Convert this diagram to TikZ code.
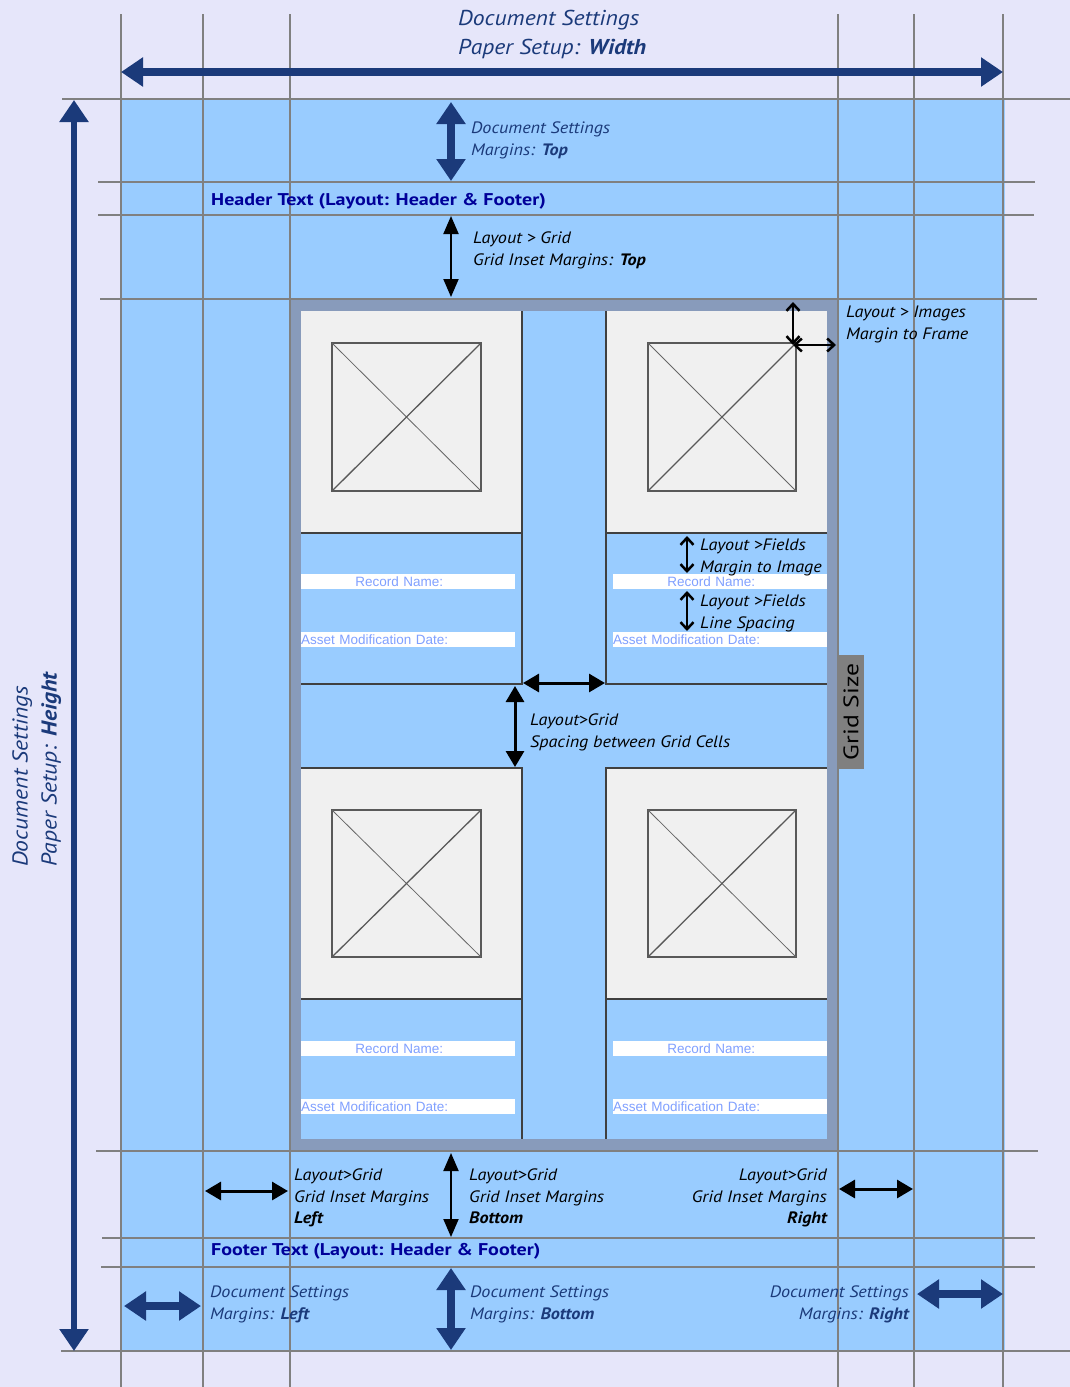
\documentclass[tikz,border=0pt]{standalone}
\usepackage{fontspec}
\setmainfont{PT Sans}[FakeStretch=1.1]
\newfontfamily\hdrfont{PT Sans}[FakeStretch=1.18]
\newfontfamily\gsfont{PT Sans}[FakeStretch=1.22]
\newfontfamily\fieldfont{Liberation Sans}
\usetikzlibrary{arrows.meta}
\definecolor{lavender}{RGB}{230,230,250}
\definecolor{pageblue}{RGB}{153,204,255}
\definecolor{linegray}{RGB}{128,128,128}
\definecolor{framegray}{RGB}{136,155,187}
\definecolor{cellgray}{RGB}{240,240,240}
\definecolor{docnavy}{RGB}{27,58,122}
\definecolor{hdrblue}{RGB}{0,0,153}
\definecolor{fieldblue}{RGB}{128,160,255}

\begin{document}
\begin{tikzpicture}[
  x=1pt,y=-1pt,
  gline/.style={linegray,line width=2.5pt},
  cline/.style={black!75,line width=1.5pt},
  imgbox/.style={draw=black!65,line width=1.3pt},
  imgx/.style={black!60,line width=0.8pt},
  navyarr/.style={docnavy,line width=8pt,{Triangle[width=28pt,length=22pt]}-{Triangle[width=28pt,length=22pt]}},
  blkarr/.style={line width=3pt,{Triangle[width=18pt,length=16pt]}-{Triangle[width=18pt,length=16pt]}},
  thinarr/.style={line width=2pt,{Triangle[width=15pt,length=18pt]}-{Triangle[width=15pt,length=18pt]}},
  barbarr/.style={line width=2.5pt,{Straight Barb[width=13pt,length=7pt]}-{Straight Barb[width=13pt,length=7pt]}},
  lbl/.style={font=\itshape\fontsize{16.5}{21.5}\selectfont,align=left,inner sep=0pt,anchor=north west},
  dlbl/.style={lbl,text=docnavy},
  biglbl/.style={font=\itshape\fontsize{21.5}{29}\selectfont,text=docnavy,align=left,inner sep=0pt,anchor=north west},
  hdr/.style={font=\hdrfont\bfseries\fontsize{17}{20}\selectfont,text=hdrblue,inner sep=0pt,anchor=west},
  fld/.style={fill=white,text=fieldblue,font=\fieldfont\fontsize{13.5}{13.5}\selectfont,inner sep=0pt,
    minimum height=15pt,text width=214pt,anchor=north west}]
  \useasboundingbox (0,0) rectangle (1070,1387);
  \fill[lavender] (0,0) rectangle (1070,1387);
  \fill[pageblue] (122,100) rectangle (1005,1351);
  \fill[framegray] (290,299) rectangle (838,1151);
  \fill[pageblue] (301,311) rectangle (827,1139);

  \fill[cellgray] (301,311) rectangle (522,533);
  \fill[cellgray] (606,311) rectangle (827,533);
  \fill[cellgray] (301,768) rectangle (522,999);
  \fill[cellgray] (606,768) rectangle (827,999);
  \draw[cline] (301,533)--(522,533);
  \draw[cline] (522,311)--(522,684)--(301,684);
  \draw[cline] (606,533)--(827,533);
  \draw[cline] (606,311)--(606,684)--(827,684);
  \draw[cline] (301,999)--(522,999);
  \draw[cline] (301,768)--(522,768)--(522,1139);
  \draw[cline] (606,999)--(827,999);
  \draw[cline] (827,768)--(606,768)--(606,1139);

  \draw[imgbox] (332,343) rectangle (481,491);
  \draw[imgx] (332,343)--(481,491);
  \draw[imgbox] (332,491)--(481,343);
  \draw[imgbox] (648,343) rectangle (796,491);
  \draw[imgx] (648,343)--(796,491);
  \draw[imgbox] (648,491)--(796,343);
  \draw[imgbox] (332,810) rectangle (481,957);
  \draw[imgx] (332,810)--(481,957);
  \draw[imgbox] (332,957)--(481,810);
  \draw[imgbox] (648,810) rectangle (796,957);
  \draw[imgx] (648,810)--(796,957);
  \draw[imgbox] (648,957)--(796,810);

  \node[fld,align=center](rn1) at(301,574){Record Name:\hspace*{18pt}};
  \node[fld,align=left](ad1) at(301,632){Asset Modification Date:};
  \node[fld,align=center](rn2) at(613,574){Record Name:\hspace*{18pt}};
  \node[fld,align=left](ad2) at(613,632){Asset Modification Date:};
  \node[fld,align=center](rn3) at(301,1041){Record Name:\hspace*{18pt}};
  \node[fld,align=left](ad3) at(301,1099){Asset Modification Date:};
  \node[fld,align=center](rn4) at(613,1041){Record Name:\hspace*{18pt}};
  \node[fld,align=left](ad4) at(613,1099){Asset Modification Date:};

  \draw[gline] (121,14)--(121,1387);
  \draw[gline] (203,14)--(203,1387);
  \draw[gline] (290,14)--(290,1387);
  \draw[gline] (838,14)--(838,1387);
  \draw[gline] (914,14)--(914,1387);
  \draw[gline] (1003,14)--(1003,1387);
  \draw[gline] (62,99)--(1070,99);
  \draw[gline] (98,182)--(1035,182);
  \draw[gline] (98,215)--(1034,215);
  \draw[gline] (100,299)--(1037,299);
  \draw[gline] (96,1151)--(1038,1151);
  \draw[gline] (102,1238)--(1035,1238);
  \draw[gline] (101,1267)--(1035,1267);
  \draw[gline] (61,1351)--(1070,1351);

  \node[fill=linegray,rotate=90,minimum width=114pt,minimum height=26pt,inner sep=0pt,
    font=\gsfont\fontsize{21}{21}\selectfont](gs) at(851,712){Grid Size};

  \coordinate(pw1) at(121,72);  \coordinate(pw2) at(1003,72);
  \coordinate(ph1) at(74,100);  \coordinate(ph2) at(74,1351);
  \coordinate(mt1) at(451,102); \coordinate(mt2) at(451,181);
  \coordinate(gt1) at(451,216); \coordinate(gt2) at(451,297);
  \coordinate(mf1) at(793,302); \coordinate(mf2) at(793,345); \coordinate(mf3) at(836,345);
  \coordinate(fm1) at(687,536); \coordinate(fm2) at(687,573);
  \coordinate(ls1) at(687,591); \coordinate(ls2) at(687,631);
  \coordinate(sh1) at(523,683); \coordinate(sh2) at(605,683);
  \coordinate(sv1) at(515,686); \coordinate(sv2) at(515,767);
  \coordinate(gl1) at(205,1191); \coordinate(gl2) at(288,1191);
  \coordinate(gb1) at(451,1153); \coordinate(gb2) at(451,1237);
  \coordinate(gr1) at(839,1189); \coordinate(gr2) at(913,1189);
  \coordinate(ml1) at(124,1306); \coordinate(ml2) at(201,1306);
  \coordinate(mb1) at(451,1268); \coordinate(mb2) at(451,1350);
  \coordinate(mr1) at(917,1294); \coordinate(mr2) at(1003,1294);

  \draw[navyarr] (pw1)--(pw2);
  \draw[navyarr,line width=6pt] (ph1)--(ph2);
  \draw[navyarr] (mt1)--(mt2);
  \draw[thinarr] (gt1)--(gt2);
  \draw[barbarr] (mf1)--(mf2);
  \draw[barbarr] (mf2)--(mf3);
  \draw[barbarr] (fm1)--(fm2);
  \draw[barbarr] (ls1)--(ls2);
  \draw[blkarr] (sh1)--(sh2);
  \draw[blkarr] (sv1)--(sv2);
  \draw[blkarr] (gl1)--(gl2);
  \draw[thinarr] (gb1)--(gb2);
  \draw[blkarr] (gr1)--(gr2);
  \draw[navyarr] (ml1)--(ml2);
  \draw[navyarr] (mb1)--(mb2);
  \draw[navyarr] (mr1)--(mr2);

  \node[biglbl](pwl) at(458,10){Document Settings\\Paper Setup: \textbf{Width}};
  \node[biglbl,rotate=90](phl) at(12,867){Document Settings\\Paper Setup: \textbf{Height}};
  \node[dlbl](mtl) at(471,122){Document Settings\\Margins: \textbf{Top}};
  \node[hdr](hdr) at(211,201){Header Text (Layout: Header \& Footer)};
  \node[lbl](gtl) at(473,232){Layout > Grid\\Grid Inset Margins: \textbf{Top}};
  \node[lbl](mfl) at(846,306){Layout > Images\\Margin to Frame};
  \node[lbl](fml) at(700,539){Layout >Fields\\Margin to Image};
  \node[lbl](lsl) at(700,595){Layout >Fields\\Line Spacing};
  \node[lbl](sgl) at(530,714){Layout>Grid\\Spacing between Grid Cells};
  \node[lbl](gll) at(294,1169){Layout>Grid\\Grid Inset Margins\\\textbf{Left}};
  \node[lbl](gbl) at(469,1169){Layout>Grid\\Grid Inset Margins\\\textbf{Bottom}};
  \node[lbl,anchor=north east,align=right](grl) at(827,1169){Layout>Grid\\Grid Inset Margins\\\textbf{Right}};
  \node[hdr](ftr) at(211,1251){Footer Text (Layout: Header \& Footer)};
  \node[dlbl](mll) at(210,1286){Document Settings\\Margins: \textbf{Left}};
  \node[dlbl](mbl) at(470,1286){Document Settings\\Margins: \textbf{Bottom}};
  \node[dlbl,anchor=north east,align=right](mrl) at(909,1286){Document Settings\\Margins: \textbf{Right}};
\end{tikzpicture}
\end{document}
